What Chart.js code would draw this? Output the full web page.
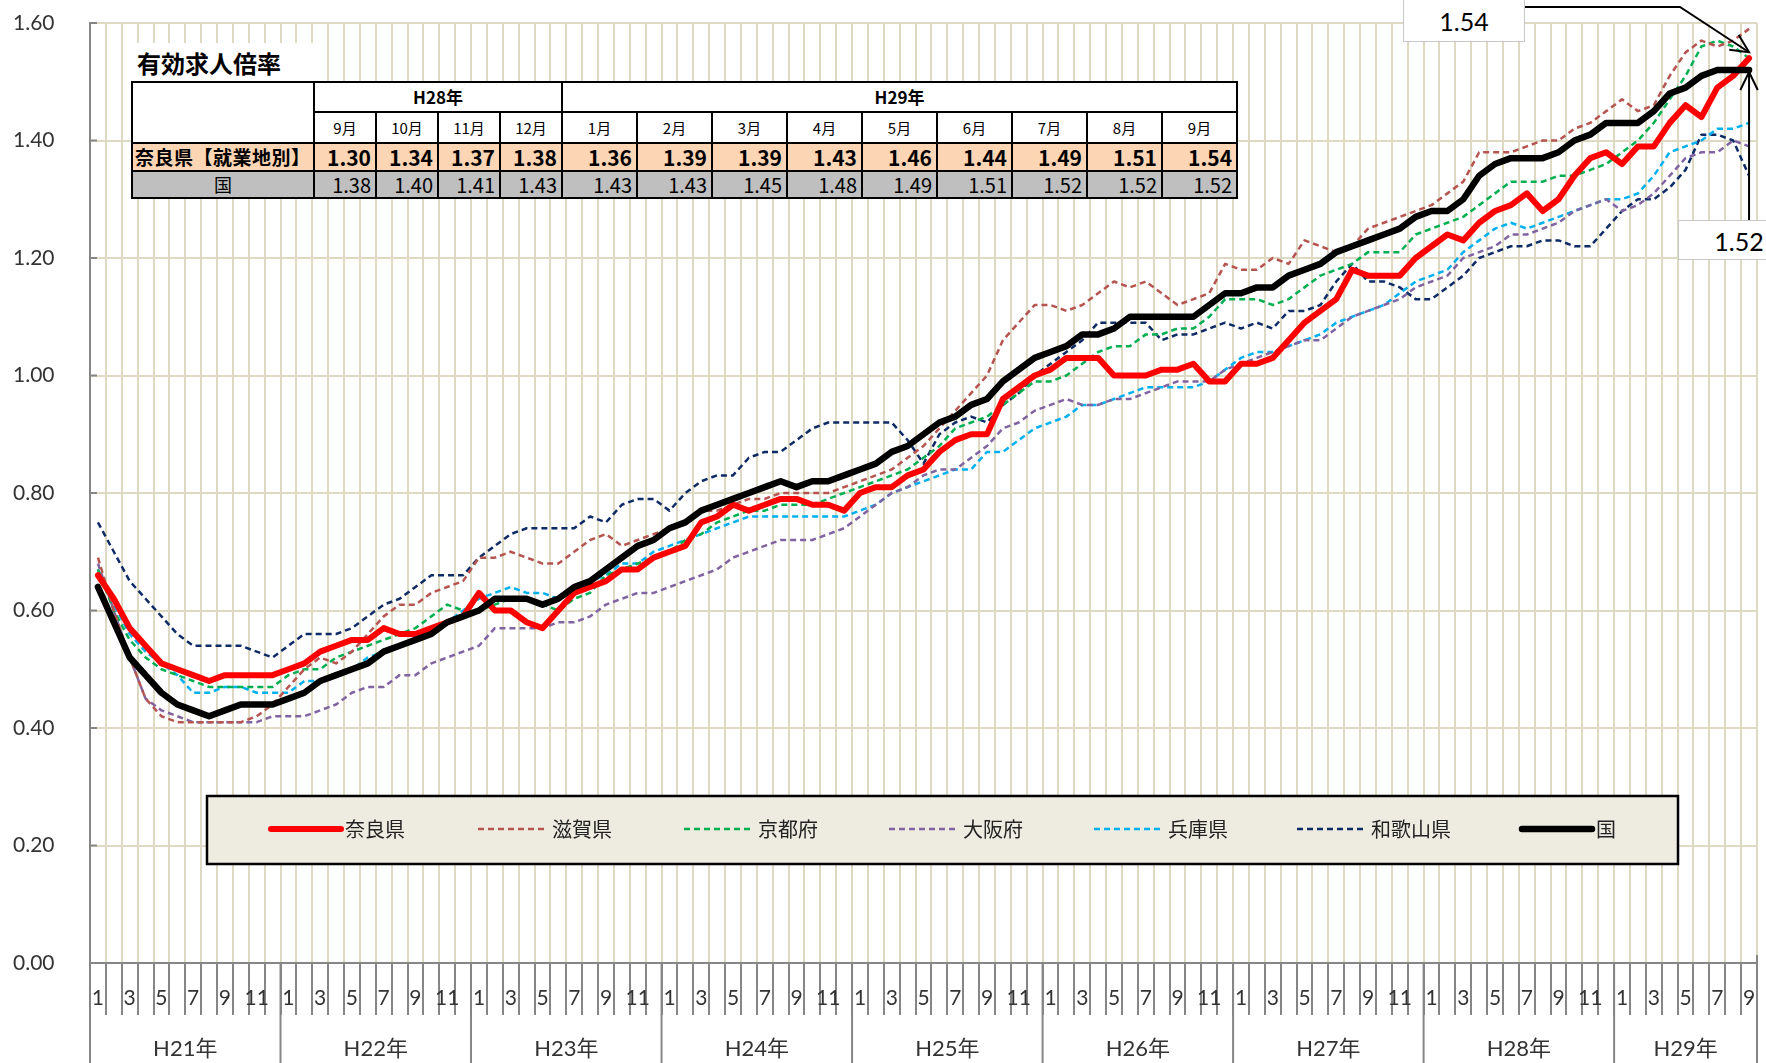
<!DOCTYPE html>
<html lang="ja">
<head>
<meta charset="utf-8">
<title>有効求人倍率</title>
<script src="https://cdn.jsdelivr.net/npm/chart.js@4.4.1/dist/chart.umd.min.js"></script>
<style>
  html, body { margin: 0; padding: 0; background: #fff; }
  #wrap { position: relative; width: 1766px; height: 1063px; overflow: hidden; font-family: "Noto Sans CJK JP", sans-serif; }
  #chart { position: absolute; left: 0; top: 0; }
  #tblTitle {
    position: absolute; left: 130px; top: 43px; width: 184px; height: 38px;
    background: #fff; box-sizing: border-box; padding-left: 7px;
    font-weight: bold; font-size: 24px; line-height: 40px; color: #000;
  }
  #summary {
    position: absolute; left: 131px; top: 81px; width: 1105px;
    border-collapse: collapse; table-layout: fixed; background: #fff;
  }
  #summary td { border: 2px solid #000; padding: 0 4px; white-space: nowrap; overflow: hidden; }
  #summary tr.yr td { height: 28px; text-align: center; font-weight: bold; font-size: 17px; line-height: 28px; }
  #summary tr.mo td { height: 29px; text-align: center; font-size: 15px; line-height: 29px; }
  #summary tr.nara td { height: 26px; background: #fcd5b4; font-weight: bold; font-size: 21px; line-height: 26px; text-align: right;
    font-family: "Liberation Sans Narrow", "Noto Sans CJK JP", sans-serif; }
  #summary tr.kuni td { height: 25px; background: #bfbfbf; font-size: 20px; line-height: 25px; text-align: right;
    font-family: "Liberation Sans Narrow", "Noto Sans CJK JP", sans-serif; }
  #summary tr.nara td.lab { text-align: left; font-family: "Noto Sans CJK JP", sans-serif; font-size: 19px; padding-left: 2px; letter-spacing: 0.5px; }
  #summary tr.kuni td.lab { text-align: center; font-family: "Noto Sans CJK JP", sans-serif; font-size: 18px; }
  .callout {
    position: absolute; background: #fff; border: 1px solid #c8c8c8; box-sizing: border-box;
    font-family: Lato, "Open Sans", sans-serif; font-size: 25px; color: #000; text-align: center;
  }
</style>
</head>
<body>
<div id="wrap">
  <canvas id="chart" width="1766" height="1063"></canvas>
  <div id="tblTitle">有効求人倍率</div>
  <table id="summary"></table>
  <div class="callout" id="c154" style="left:1403px; top:-1px; width:122px; height:43px; line-height:43px;"></div>
  <div class="callout" id="c152" style="left:1678px; top:220px; width:122px; height:40px; line-height:40px;"></div>
</div>
<script>
// x axis: Japanese fiscal-era years and how many months each shows
const years = ['H21年', 'H22年', 'H23年', 'H24年', 'H25年', 'H26年', 'H27年', 'H28年', 'H29年'];
const monthsPerYear = [12, 12, 12, 12, 12, 12, 12, 12, 9];

// 奈良県
const nara = [
  0.66, 0.62, 0.57, 0.54, 0.51, 0.50, 0.49, 0.48, 0.49, 0.49, 0.49, 0.49,
  0.50, 0.51, 0.53, 0.54, 0.55, 0.55, 0.57, 0.56, 0.56, 0.57, 0.58, 0.59,
  0.63, 0.60, 0.60, 0.58, 0.57, 0.60, 0.63, 0.64, 0.65, 0.67, 0.67, 0.69,
  0.70, 0.71, 0.75, 0.76, 0.78, 0.77, 0.78, 0.79, 0.79, 0.78, 0.78, 0.77,
  0.80, 0.81, 0.81, 0.83, 0.84, 0.87, 0.89, 0.90, 0.90, 0.96, 0.98, 1.00,
  1.01, 1.03, 1.03, 1.03, 1.00, 1.00, 1.00, 1.01, 1.01, 1.02, 0.99, 0.99,
  1.02, 1.02, 1.03, 1.06, 1.09, 1.11, 1.13, 1.18, 1.17, 1.17, 1.17, 1.20,
  1.22, 1.24, 1.23, 1.26, 1.28, 1.29, 1.31, 1.28, 1.30, 1.34, 1.37, 1.38,
  1.36, 1.39, 1.39, 1.43, 1.46, 1.44, 1.49, 1.51, 1.54
];
// 滋賀県
const shiga = [
  0.69, 0.60, 0.52, 0.45, 0.42, 0.41, 0.41, 0.41, 0.41, 0.41, 0.42, 0.44,
  0.47, 0.50, 0.52, 0.51, 0.53, 0.56, 0.59, 0.61, 0.61, 0.63, 0.64, 0.65,
  0.69, 0.69, 0.70, 0.69, 0.68, 0.68, 0.70, 0.72, 0.73, 0.71, 0.72, 0.73,
  0.74, 0.75, 0.77, 0.77, 0.78, 0.79, 0.79, 0.80, 0.80, 0.80, 0.80, 0.81,
  0.82, 0.83, 0.84, 0.86, 0.88, 0.91, 0.94, 0.97, 1.00, 1.06, 1.09, 1.12,
  1.12, 1.11, 1.12, 1.14, 1.16, 1.15, 1.16, 1.14, 1.12, 1.13, 1.14, 1.19,
  1.18, 1.18, 1.20, 1.19, 1.23, 1.22, 1.21, 1.22, 1.25, 1.26, 1.27, 1.28,
  1.29, 1.31, 1.33, 1.38, 1.38, 1.38, 1.39, 1.40, 1.40, 1.42, 1.43, 1.45,
  1.47, 1.45, 1.46, 1.51, 1.55, 1.57, 1.56, 1.57, 1.59
];
// 京都府
const kyoto = [
  0.67, 0.60, 0.55, 0.52, 0.50, 0.49, 0.48, 0.47, 0.47, 0.47, 0.47, 0.47,
  0.49, 0.50, 0.50, 0.52, 0.53, 0.54, 0.55, 0.56, 0.57, 0.59, 0.61, 0.60,
  0.60, 0.61, 0.62, 0.62, 0.61, 0.60, 0.62, 0.63, 0.66, 0.67, 0.68, 0.69,
  0.70, 0.72, 0.73, 0.75, 0.76, 0.77, 0.77, 0.78, 0.78, 0.78, 0.79, 0.80,
  0.81, 0.82, 0.83, 0.84, 0.86, 0.88, 0.91, 0.92, 0.93, 0.95, 0.97, 0.99,
  0.99, 1.00, 1.02, 1.04, 1.05, 1.05, 1.07, 1.07, 1.08, 1.08, 1.10, 1.13,
  1.13, 1.13, 1.12, 1.13, 1.15, 1.17, 1.18, 1.19, 1.21, 1.21, 1.21, 1.24,
  1.25, 1.26, 1.27, 1.29, 1.31, 1.33, 1.33, 1.33, 1.34, 1.34, 1.35, 1.36,
  1.38, 1.40, 1.43, 1.47, 1.51, 1.56, 1.57, 1.56, 1.54
];
// 大阪府
const osaka = [
  0.68, 0.60, 0.52, 0.45, 0.43, 0.42, 0.41, 0.41, 0.41, 0.41, 0.41, 0.42,
  0.42, 0.42, 0.43, 0.44, 0.46, 0.47, 0.47, 0.49, 0.49, 0.51, 0.52, 0.53,
  0.54, 0.57, 0.57, 0.57, 0.57, 0.58, 0.58, 0.59, 0.61, 0.62, 0.63, 0.63,
  0.64, 0.65, 0.66, 0.67, 0.69, 0.70, 0.71, 0.72, 0.72, 0.72, 0.73, 0.74,
  0.76, 0.78, 0.80, 0.81, 0.83, 0.84, 0.84, 0.86, 0.88, 0.91, 0.92, 0.94,
  0.95, 0.96, 0.95, 0.95, 0.96, 0.96, 0.97, 0.98, 0.99, 0.99, 0.99, 1.01,
  1.02, 1.03, 1.04, 1.05, 1.06, 1.06, 1.08, 1.10, 1.11, 1.12, 1.13, 1.15,
  1.16, 1.17, 1.20, 1.21, 1.22, 1.24, 1.24, 1.25, 1.26, 1.28, 1.29, 1.30,
  1.28, 1.29, 1.31, 1.34, 1.37, 1.38, 1.38, 1.40, 1.39
];
// 兵庫県
const hyogo = [
  0.67, 0.61, 0.56, 0.53, 0.51, 0.49, 0.46, 0.46, 0.47, 0.47, 0.46, 0.46,
  0.46, 0.48, 0.48, 0.49, 0.50, 0.52, 0.53, 0.54, 0.55, 0.57, 0.58, 0.60,
  0.62, 0.63, 0.64, 0.63, 0.63, 0.62, 0.63, 0.65, 0.66, 0.68, 0.68, 0.70,
  0.71, 0.72, 0.73, 0.74, 0.75, 0.76, 0.76, 0.76, 0.76, 0.76, 0.76, 0.76,
  0.77, 0.78, 0.80, 0.81, 0.82, 0.83, 0.84, 0.84, 0.87, 0.87, 0.89, 0.91,
  0.92, 0.93, 0.95, 0.95, 0.96, 0.97, 0.98, 0.98, 0.98, 0.98, 0.99, 1.01,
  1.03, 1.04, 1.04, 1.05, 1.06, 1.07, 1.09, 1.10, 1.11, 1.12, 1.14, 1.16,
  1.17, 1.18, 1.21, 1.23, 1.25, 1.26, 1.25, 1.26, 1.27, 1.28, 1.29, 1.30,
  1.30, 1.31, 1.34, 1.38, 1.39, 1.40, 1.42, 1.42, 1.43
];
// 和歌山県
const wakayama = [
  0.75, 0.70, 0.65, 0.62, 0.59, 0.56, 0.54, 0.54, 0.54, 0.54, 0.53, 0.52,
  0.54, 0.56, 0.56, 0.56, 0.57, 0.59, 0.61, 0.62, 0.64, 0.66, 0.66, 0.66,
  0.69, 0.71, 0.73, 0.74, 0.74, 0.74, 0.74, 0.76, 0.75, 0.78, 0.79, 0.79,
  0.77, 0.80, 0.82, 0.83, 0.83, 0.86, 0.87, 0.87, 0.89, 0.91, 0.92, 0.92,
  0.92, 0.92, 0.92, 0.89, 0.85, 0.90, 0.92, 0.93, 0.92, 0.95, 0.97, 1.00,
  1.02, 1.04, 1.06, 1.09, 1.09, 1.09, 1.09, 1.06, 1.07, 1.07, 1.08, 1.09,
  1.08, 1.09, 1.08, 1.11, 1.11, 1.12, 1.16, 1.19, 1.16, 1.16, 1.15, 1.13,
  1.13, 1.15, 1.17, 1.20, 1.21, 1.22, 1.22, 1.23, 1.23, 1.22, 1.22, 1.25,
  1.28, 1.30, 1.30, 1.32, 1.35, 1.41, 1.41, 1.40, 1.34
];
// 国
const kuni = [
  0.64, 0.58, 0.52, 0.49, 0.46, 0.44, 0.43, 0.42, 0.43, 0.44, 0.44, 0.44,
  0.45, 0.46, 0.48, 0.49, 0.50, 0.51, 0.53, 0.54, 0.55, 0.56, 0.58, 0.59,
  0.60, 0.62, 0.62, 0.62, 0.61, 0.62, 0.64, 0.65, 0.67, 0.69, 0.71, 0.72,
  0.74, 0.75, 0.77, 0.78, 0.79, 0.80, 0.81, 0.82, 0.81, 0.82, 0.82, 0.83,
  0.84, 0.85, 0.87, 0.88, 0.90, 0.92, 0.93, 0.95, 0.96, 0.99, 1.01, 1.03,
  1.04, 1.05, 1.07, 1.07, 1.08, 1.10, 1.10, 1.10, 1.10, 1.10, 1.12, 1.14,
  1.14, 1.15, 1.15, 1.17, 1.18, 1.19, 1.21, 1.22, 1.23, 1.24, 1.25, 1.27,
  1.28, 1.28, 1.30, 1.34, 1.36, 1.37, 1.37, 1.37, 1.38, 1.40, 1.41, 1.43,
  1.43, 1.43, 1.45, 1.48, 1.49, 1.51, 1.52, 1.52, 1.52
];

// summary table (last 13 months)
const tableYears = ['H28年', 'H29年'];
const tableYearSpans = [4, 9];
const tableMonths = ['9月', '10月', '11月', '12月', '1月', '2月', '3月', '4月', '5月', '6月', '7月', '8月', '9月'];

// month number labels, 1..12 per year
const monthLabels = [];
monthsPerYear.forEach(n => { for (let m = 1; m <= n; m++) monthLabels.push(String(m)); });

const GRID = '#ddd9c3';
const AXIS = '#868686';
const LEGEND_X = [271, 478, 684, 889, 1094, 1297, 1522];

function dashed(label, data, color) {
    return {
        label, data, borderColor: color, borderWidth: 2.5, borderDash: [6, 4],
        pointRadius: 0, tension: 0, order: 2, borderCapStyle: 'butt', borderJoinStyle: 'round'
    };
}

function arrowHead(c, x1, y1, x2, y2) {
    const a = Math.atan2(y2 - y1, x2 - x1), len = 20, w = 0.45;
    c.beginPath();
    c.moveTo(x2 - len * Math.cos(a - w), y2 - len * Math.sin(a - w));
    c.lineTo(x2, y2);
    c.lineTo(x2 - len * Math.cos(a + w), y2 - len * Math.sin(a + w));
    c.stroke();
}

// year labels under the month numbers, y axis inner ticks
const axisDecor = {
    id: 'axisDecor',
    afterDraw(chart) {
        const xs = chart.scales.x, ys = chart.scales.y, area = chart.chartArea;
        const c = chart.ctx;
        const step = (area.right - area.left) / monthLabels.length;
        c.save();
        c.strokeStyle = AXIS;
        c.lineWidth = 2;
        ys.ticks.forEach(t => {
            const y = ys.getPixelForValue(t.value);
            c.beginPath(); c.moveTo(area.left, y); c.lineTo(area.left + 7, y); c.stroke();
        });
        c.font = '22px Lato, "Noto Sans CJK JP", sans-serif';
        c.fillStyle = '#333';
        c.textAlign = 'center';
        c.textBaseline = 'middle';
        let start = 0, xR = area.left;
        years.forEach((yl, k) => {
            const n = monthsPerYear[k];
            const xL = xs.getPixelForValue(start) - step / 2;
            xR = xs.getPixelForValue(start + n - 1) + step / 2;
            c.beginPath(); c.moveTo(xL, area.bottom); c.lineTo(xL, chart.height); c.stroke();
            c.fillText(yl, (xL + xR) / 2, 1049);
            start += n;
        });
        c.beginPath(); c.moveTo(xR, area.bottom - 8); c.lineTo(xR, chart.height); c.stroke();
        c.restore();
    }
};

const legendBox = {
    id: 'legendBox',
    afterDraw(chart) {
        const c = chart.ctx;
        const cy = 829;
        c.save();
        c.fillStyle = '#eeece1';
        c.fillRect(207, 796, 1471, 68);
        c.strokeStyle = '#000';
        c.lineWidth = 2.5;
        c.strokeRect(207, 796, 1471, 68);
        c.font = '20px "Noto Sans CJK JP", sans-serif';
        c.textBaseline = 'middle';
        c.textAlign = 'left';
        chart.data.datasets.forEach((ds, i) => {
            const x0 = LEGEND_X[i];
            c.beginPath();
            c.setLineDash(ds.borderDash || []);
            c.lineWidth = ds.borderWidth;
            c.lineCap = ds.borderDash ? 'butt' : 'round';
            c.strokeStyle = ds.borderColor;
            c.moveTo(x0, cy);
            c.lineTo(x0 + 70, cy);
            c.stroke();
            c.setLineDash([]);
            c.fillStyle = '#222';
            c.fillText(ds.label, x0 + 74, cy);
        });
        c.restore();
    }
};

// arrows from the two value boxes to the last points
const callouts = {
    id: 'callouts',
    afterDraw(chart) {
        const xs = chart.scales.x, ys = chart.scales.y;
        const last = nara.length - 1;
        const px = xs.getPixelForValue(last);
        const redY = ys.getPixelForValue(nara[last]);
        const blkY = ys.getPixelForValue(kuni[last]);
        const c = chart.ctx;
        c.save();
        c.strokeStyle = '#000';
        c.lineWidth = 2;
        c.beginPath(); c.moveTo(1525, 7); c.lineTo(1680, 7); c.lineTo(px, redY - 6); c.stroke();
        arrowHead(c, 1680, 7, px, redY - 6);
        c.beginPath(); c.moveTo(px, 220); c.lineTo(px, blkY + 2); c.stroke();
        arrowHead(c, px, 220, px, blkY + 2);
        c.restore();
    }
};

function buildTable() {
    const tbl = document.getElementById('summary');
    let html = '<colgroup><col style="width:182px">';
    tableMonths.forEach((m, i) => { html += `<col style="width:${i < tableYearSpans[0] ? 62 : 75}px">`; });
    html += '</colgroup>';
    html += '<tr class="yr"><td rowspan="2"></td>';
    tableYears.forEach((y, i) => { html += `<td colspan="${tableYearSpans[i]}">${y}</td>`; });
    html += '</tr><tr class="mo">';
    tableMonths.forEach(m => { html += `<td>${m}</td>`; });
    html += '</tr><tr class="nara"><td class="lab">奈良県【就業地別】</td>';
    nara.slice(-tableMonths.length).forEach(v => { html += `<td>${v.toFixed(2)}</td>`; });
    html += '</tr><tr class="kuni"><td class="lab">国</td>';
    kuni.slice(-tableMonths.length).forEach(v => { html += `<td>${v.toFixed(2)}</td>`; });
    html += '</tr>';
    tbl.innerHTML = html;

    document.getElementById('c154').textContent = nara[nara.length - 1].toFixed(2);
    document.getElementById('c152').textContent = kuni[kuni.length - 1].toFixed(2);
}

buildTable();

const ctx = document.getElementById('chart').getContext('2d');
new Chart(ctx, {
    type: 'line',
    data: {
        labels: monthLabels,
        datasets: [
            { label: '奈良県', data: nara, borderColor: '#ff0000', borderWidth: 6, pointRadius: 0, tension: 0,
              order: 1, borderCapStyle: 'round', borderJoinStyle: 'round' },
            dashed('滋賀県', shiga, '#b65450'),
            dashed('京都府', kyoto, '#00b050'),
            dashed('大阪府', osaka, '#8064a2'),
            dashed('兵庫県', hyogo, '#00b0f0'),
            dashed('和歌山県', wakayama, '#0f2b66'),
            { label: '国', data: kuni, borderColor: '#000000', borderWidth: 6.5, pointRadius: 0, tension: 0,
              order: 0, borderCapStyle: 'round', borderJoinStyle: 'round' }
        ]
    },
    options: {
        responsive: false,
        animation: false,
        // y tick padding adds to the top inset, so labels are placed with crossAlign instead
        layout: { padding: { top: 23, right: 9, left: 13, bottom: 0 } },
        plugins: { legend: { display: false }, tooltip: { enabled: false } },
        scales: {
            x: {
                type: 'category',
                offset: true,
                grid: { offset: true, color: GRID, lineWidth: 2, tickColor: AXIS, tickLength: 52, tickWidth: 2 },
                border: { color: AXIS, width: 2 },
                ticks: {
                    autoSkip: false, maxRotation: 0, minRotation: 0, padding: -29,
                    color: '#333', font: { family: 'Lato, "Open Sans", sans-serif', size: 21 },
                    callback: (v, i) => (Number(monthLabels[i]) % 2 === 1 ? monthLabels[i] : '')
                },
                afterFit: s => { s.height = 100; }
            },
            y: {
                min: 0,
                max: 1.6,
                grid: { color: GRID, lineWidth: 2, drawTicks: false },
                border: { color: AXIS, width: 2 },
                ticks: {
                    stepSize: 0.2, padding: 0, crossAlign: 'far', color: '#333',
                    font: { family: 'Lato, "Open Sans", sans-serif', size: 21 },
                    callback: v => v.toFixed(2)
                },
                afterFit: s => { s.width = 77; }
            }
        }
    },
    plugins: [axisDecor, legendBox, callouts]
});
</script>
</body>
</html>
